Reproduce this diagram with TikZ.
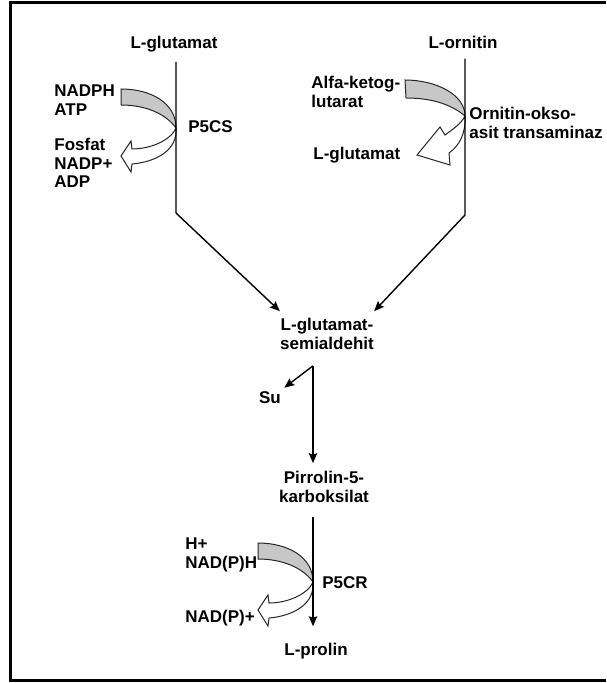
\documentclass[tikz,border=0pt]{standalone}
\usepackage{fontspec}
\setmainfont{Liberation Sans}
\usepackage{tikz}
\usetikzlibrary{positioning,arrows.meta}
\newcommand{\cofband}[1]{%
  \begin{scope}[shift={(#1)}]
    \draw[band] (-55,-39) .. controls (-25,-39) and (0,-25) .. (0,0)
      .. controls (-10,-14) and (-30,-23) .. (-55,-23) -- cycle;
    \draw[outarrow] (0,0) .. controls (-5,12) and (-25,21) .. (-44,21)
      -- (-45,13) -- (-55,28) -- (-45,44) -- (-44,36)
      .. controls (-20,34) and (2,22) .. (0,0) -- cycle;
  \end{scope}%
}

\begin{document}
\begin{tikzpicture}[
  x=0.5pt, y=-0.5pt,
  every node/.style={font=\fontsize{8.5}{9.2}\selectfont\bfseries, inner sep=0pt},
  flow/.style={line width=0.7pt, -{Stealth[length=5pt,width=4.2pt,inset=0.8pt]}},
  trunk/.style={line width=0.7pt},
  band/.style={draw=black!85, line width=0.5pt, fill=black!22},
  outarrow/.style={draw=black!85, line width=0.5pt, fill=white},
]
\useasboundingbox (0,0) rectangle (606,683);
\draw[line width=1.5pt] (606,2.5) -- (10.5,2.5) -- (10.5,680.5) -- (606,680.5);

% ---------------- metabolites ----------------
\node[anchor=base, inner ysep=4.5pt] (glu) at (174,49) {L-glutamat};
\node[anchor=base, inner ysep=4.5pt] (orn) at (463,49) {L-ornitin};
\node[align=center, inner ysep=3.5pt] (gsa) at (327,334) {L-glutamat-\\semialdehit};
\node[anchor=base, inner sep=1.5pt] (su) at (270,403) {Su};
\node[align=center, inner ysep=4pt] (p5c) at (324,487) {Pirrolin-5-\\karboksilat};
\node[anchor=base, inner ysep=8pt] (pro) at (316,655) {L-prolin};

% ---------------- enzymes and cofactors ----------------
\node[align=left, anchor=west] (nadph) at (54,100) {NADPH\\ATP};
\node[anchor=base west] (p5cs) at (188,133) {P5CS};
\node[align=left, anchor=west] (fos) at (54,163) {Fosfat\\NADP+\\ADP};

\node[align=left, anchor=west] (akg) at (311,92) {Alfa-ketog-\\lutarat};
\node[align=left, anchor=west] (oat) at (469,123) {Ornitin-okso-\\asit transaminaz};
\node[anchor=base west] (glu2) at (313,160) {L-glutamat};

\node[align=left, anchor=west] (hnad) at (185,555) {H+\\NAD(P)H};
\node[anchor=base west] (p5cr) at (322,588) {P5CR};
\node[anchor=base west] (nadp) at (185,622) {NAD(P)+};

% ---------------- bands ----------------
\coordinate (p5csTip) at (176,128);
\coordinate (p5crTip) at (313,582);
\coordinate (oatTip) at (465,116);
\cofband{p5csTip}
\cofband{p5crTip}
\begin{scope}[shift={(oatTip)}]
  \draw[band] (-60,-36) .. controls (-30,-36) and (0,-22) .. (0,0)
    .. controls (-12,-10) and (-30,-18) .. (-59,-18) -- cycle;
  \draw[outarrow] (0,0) .. controls (-4,8) and (-12,13) .. (-20,19)
    -- (-25,11) -- (-48,39) -- (-15,49) -- (-16,37)
    .. controls (-6,30) and (1,18) .. (0,0) -- cycle;
\end{scope}

% ---------------- connectors ----------------
\coordinate (gluBend) at (176,213);
\coordinate (ornBend) at (465,215);
\coordinate (stem) at (313,0);
\draw[flow] (glu.south -| gluBend) -- (gluBend) -- (gsa.north west);
\draw[flow] (orn.south -| ornBend) -- (ornBend) -- (gsa.north east);
\draw[flow] (gsa.south -| stem) ++(0,9) coordinate (gsaOut) -- (p5c.north -| stem);
\draw[flow] (gsaOut) -- (su.north east);
\draw[flow] (p5c.south -| stem) ++(0,6) -- (pro.north -| stem);
\end{tikzpicture}
\end{document}
